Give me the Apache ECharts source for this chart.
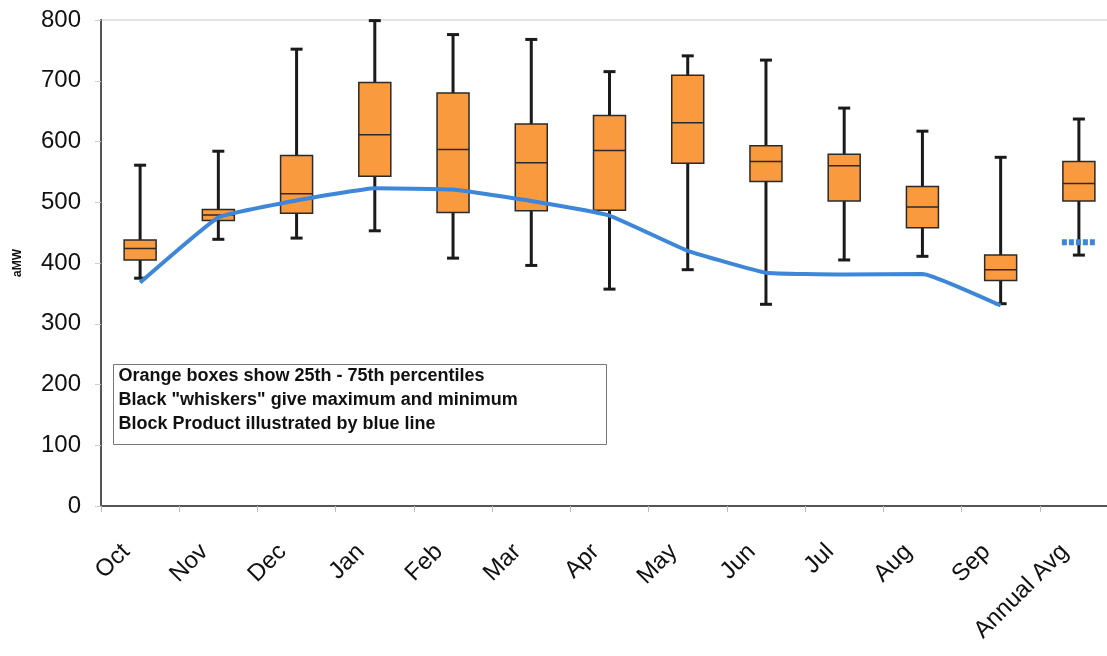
<!DOCTYPE html>
<html>
<head>
<meta charset="utf-8">
<script src="https://cdn.jsdelivr.net/npm/echarts@6/dist/echarts.min.js"></script>
<style>
  html, body { margin: 0; padding: 0; background: #fff; }
  #chart { width: 1107px; height: 656px; }
</style>
</head>
<body>
<div id="chart"></div>
<script>
// categories and values (aMW)
var months = ['Oct', 'Nov', 'Dec', 'Jan', 'Feb', 'Mar', 'Apr', 'May', 'Jun', 'Jul', 'Aug', 'Sep', 'Annual Avg'];
var lowest = [375, 439, 441, 453, 408, 396, 357, 389, 332, 405, 411, 333, 413];
var pct25  = [405, 470, 482, 543, 483, 486, 487, 564, 534, 502, 458, 371, 502];
var median = [424, 479, 514, 611, 587, 565, 585, 631, 567, 560, 492, 389, 531];
var pct75  = [438, 488, 577, 697, 680, 629, 643, 709, 593, 579, 526, 413, 567];
var highest = [561, 584, 752, 799, 776, 768, 715, 741, 734, 655, 617, 574, 637];
var blockProduct = [368, 475, 503, 523, 521, 502, 478, 420, 384, 381, 382, 330, null];
var blockAvg = 434;
var yTicks = [0, 100, 200, 300, 400, 500, 600, 700, 800];
var noteLines = [
  'Orange boxes show 25th - 75th percentiles',
  'Black "whiskers" give maximum and minimum',
  'Block Product illustrated by blue line'
];

var boxData = months.map(function (m, i) {
  return [i, lowest[i], pct25[i], median[i], pct75[i], highest[i]];
});

var myChart = echarts.init(document.getElementById('chart'));

function renderBox(params, api) {
  var i = api.value(0);
  var x = api.coord([i, 0])[0];
  var yLo = api.coord([i, api.value(1)])[1];
  var yQ1 = api.coord([i, api.value(2)])[1];
  var yMed = api.coord([i, api.value(3)])[1];
  var yQ3 = api.coord([i, api.value(4)])[1];
  var yHi = api.coord([i, api.value(5)])[1];
  var hw = 16, cw = 6;
  var wStyle = { stroke: '#1a1a1a', lineWidth: 3 };
  return {
    type: 'group',
    children: [
      { type: 'line', shape: { x1: x, y1: yHi, x2: x, y2: yLo }, style: wStyle },
      { type: 'line', shape: { x1: x - cw, y1: yHi, x2: x + cw, y2: yHi }, style: wStyle },
      { type: 'line', shape: { x1: x - cw, y1: yLo, x2: x + cw, y2: yLo }, style: wStyle },
      { type: 'rect', shape: { x: x - hw, y: yQ3, width: hw * 2, height: yQ1 - yQ3 },
        style: { fill: '#fa9a3e', stroke: '#2a2a2a', lineWidth: 1.5 } },
      { type: 'line', shape: { x1: x - hw, y1: yMed, x2: x + hw, y2: yMed },
        style: { stroke: '#2a2a2a', lineWidth: 1.5 } }
    ]
  };
}

function renderAvg(params, api) {
  var p = api.coord([api.value(0), api.value(1)]);
  return {
    type: 'line',
    shape: { x1: p[0] - 17, y1: p[1], x2: p[0] + 17, y2: p[1] },
    style: { stroke: '#3d86d8', lineWidth: 6, lineDash: [5, 2] }
  };
}

var noteFont = 'bold 18px "Liberation Sans"';

var option = {
  backgroundColor: '#fff',
  animation: false,
  grid: {
    left: 101, top: 20, right: -11, bottom: 150,
    outerBoundsMode: 'none',
    show: true, borderColor: '#c8c8c8', borderWidth: 1
  },
  xAxis: {
    type: 'category',
    data: months,
    boundaryGap: true,
    axisLine: { lineStyle: { color: '#555', width: 2 } },
    axisTick: { show: true, length: 6, lineStyle: { color: '#bbb' } },
    axisLabel: {
      rotate: 45, margin: 28, interval: 0, padding: [0, 20, 0, 0],
      fontFamily: 'Liberation Sans', fontSize: 24, color: '#111'
    },
    splitLine: { show: false }
  },
  yAxis: {
    type: 'value',
    min: yTicks[0], max: yTicks[yTicks.length - 1], interval: 100,
    name: 'aMW', nameLocation: 'middle', nameGap: 77, nameRotate: 90,
    nameTextStyle: { fontFamily: 'Liberation Sans', fontWeight: 'bold', fontSize: 12, color: '#111' },
    axisLine: { show: true, lineStyle: { color: '#555', width: 2 } },
    axisTick: { show: true, length: 6, lineStyle: { color: '#ccc' } },
    axisLabel: { margin: 20, fontFamily: 'Liberation Sans', fontSize: 24, color: '#111' },
    splitLine: { show: false }
  },
  graphic: [
    {
      type: 'group', left: 113, top: 364,
      children: [
        { type: 'rect', shape: { x: 0, y: 0, width: 493, height: 80 },
          style: { fill: '#fff', stroke: '#777', lineWidth: 1 } },
        { type: 'text', x: 5, y: 3, style: { text: noteLines[0], font: noteFont, fill: '#111' } },
        { type: 'text', x: 5, y: 27, style: { text: noteLines[1], font: noteFont, fill: '#111' } },
        { type: 'text', x: 5, y: 51, style: { text: noteLines[2], font: noteFont, fill: '#111' } }
      ]
    }
  ],
  series: [
    {
      name: 'Range',
      type: 'custom',
      renderItem: renderBox,
      encode: { x: 0, y: [1, 2, 3, 4, 5] },
      data: boxData,
      z: 2
    },
    {
      name: 'Block Product',
      type: 'line',
      data: blockProduct,
      smooth: 0.1,
      symbol: 'none',
      lineStyle: { color: '#3d86d8', width: 4 },
      z: 3
    },
    {
      name: 'Block Avg',
      type: 'custom',
      renderItem: renderAvg,
      encode: { x: 0, y: 1 },
      data: [[months.length - 1, blockAvg]],
      z: 4
    }
  ]
};

myChart.setOption(option);
</script>
</body>
</html>
